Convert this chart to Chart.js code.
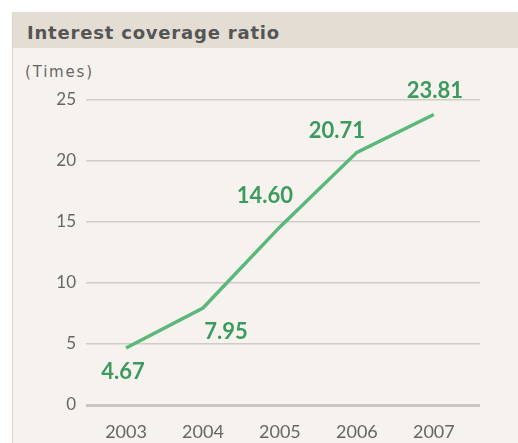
<!DOCTYPE html>
<html>
<head>
<meta charset="utf-8">
<script src="https://cdn.jsdelivr.net/npm/chart.js@4"></script>
<style>
  html, body { margin: 0; padding: 0; background: #fff; }
  #wrap { position: relative; width: 518px; height: 443px; overflow: hidden; }
  #panel { position: absolute; left: 12px; top: 12px; width: 506px; height: 431px;
           background: #f6f3ee; border-left: 1px solid #ddd5ca; }
  #head { height: 36px; background: #e4ddd3; color: #555; font: bold 18px "DejaVu Sans", sans-serif;
          line-height: 42px; padding-left: 14px; letter-spacing: 0.8px; }
  #unit { position: absolute; left: 25px; top: 63px; color: #666; font: 15px "DejaVu Sans", sans-serif;
          letter-spacing: 1.8px; }
  canvas { position: absolute; left: 0; top: 0; }
</style>
</head>
<body>
<div id="wrap">
  <div id="panel"><div id="head">Interest coverage ratio</div></div>
  <div id="unit">(Times)</div>
  <canvas id="myChart" width="518" height="443"></canvas>
</div>
<script>
const years = [2003, 2004, 2005, 2006, 2007];
const ratios = [4.67, 7.95, 14.60, 20.71, 23.81];
const valueLabels = ['4.67', '7.95', '14.60', '20.71', '23.81'];
const yTicks = [0, 5, 10, 15, 20, 25];

// where each value label sits relative to its point
const labelOffsets = [[-3, 24], [23, 24], [-15, -31], [-20, -21], [1, -24]];

const pointLabels = {
  id: 'pointLabels',
  afterDatasetsDraw(chart) {
    const ctx = chart.ctx;
    const meta = chart.getDatasetMeta(0);
    ctx.save();
    ctx.font = 'bold 22px Lato, sans-serif';
    ctx.fillStyle = '#3c9a5f';
    ctx.textAlign = 'center';
    ctx.textBaseline = 'middle';
    meta.data.forEach((pt, i) => {
      ctx.fillText(valueLabels[i], pt.x + labelOffsets[i][0], pt.y + labelOffsets[i][1]);
    });
    ctx.restore();
  }
};

const ctx = document.getElementById('myChart');
new Chart(ctx, {
  type: 'line',
  data: {
    datasets: [{
      data: years.map((y, i) => ({ x: y, y: ratios[i] })),
      borderColor: '#5cb87a',
      borderWidth: 3.5,
      pointRadius: 0,
      tension: 0,
      fill: false
    }]
  },
  options: {
    responsive: false,
    animation: false,
    layout: { padding: { left: 0, right: 38, top: 100, bottom: 0 } },
    plugins: { legend: { display: false }, tooltip: { enabled: false } },
    scales: {
      x: {
        type: 'linear',
        min: 2002.48,
        max: 2007.6,
        afterBuildTicks: (s) => { s.ticks = years.map(v => ({ value: v })); },
        afterFit: (s) => { s.height = 38; },
        grid: { display: false, drawTicks: false },
        border: { display: false },
        ticks: {
          color: '#666',
          font: { family: 'Lato, sans-serif', size: 18 },
          padding: 16,
          callback: (v) => String(v)
        }
      },
      y: {
        min: 0,
        max: 25,
        afterBuildTicks: (s) => { s.ticks = yTicks.map(v => ({ value: v })); },
        afterFit: (s) => { s.width = 86; },
        grid: {
          color: (c) => c.tick && c.tick.value === 0 ? '#c9c6c2' : '#cfcdca',
          lineWidth: (c) => c.tick && c.tick.value === 0 ? 3 : 1.5,
          drawTicks: false
        },
        border: { display: false },
        ticks: {
          color: '#666',
          font: { family: 'Lato, sans-serif', size: 17 },
          padding: 10
        }
      }
    }
  },
  plugins: [pointLabels]
});
</script>
</body>
</html>
